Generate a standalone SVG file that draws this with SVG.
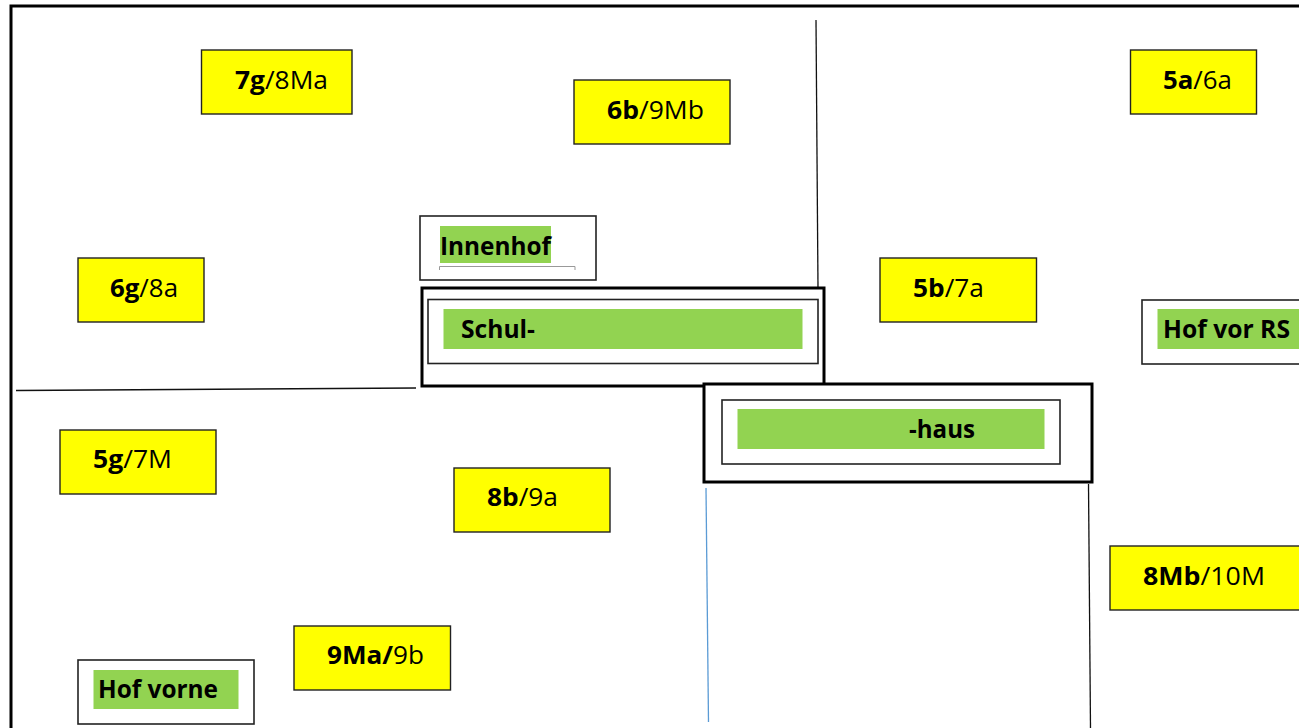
<svg xmlns="http://www.w3.org/2000/svg" width="1299" height="728" viewBox="0 0 1299 728">
<style>
text{font-family:"Open Sans","Lato",sans-serif;fill:#000}
.y{fill:#ff0;stroke:#222;stroke-width:1.4}
.w{fill:#fff;stroke:#222;stroke-width:1.6}
.b{fill:#fff;stroke:#000;stroke-width:3}
.g{fill:#92d351}
.t{font-size:25px}
.l{font-size:25px;font-weight:700}
.s{font-weight:700}
.c{fill:none;stroke:#111;stroke-width:1.3}
</style>
<rect id="frame" x="11" y="6" width="1300" height="740" fill="#fff" stroke="#000" stroke-width="3"/>
<g id="connectors">
<path class="c" d="M816 20L818 288"/>
<path class="c" d="M16 390.500L416 388"/>
<path class="c" d="M1088.500 484L1090.500 728"/>
<path class="c" d="M706 488L708.500 722" style="stroke:#5b9bd5"/>
</g>
<g id="n7g"><rect class="y" x="201.500" y="50" width="150.500" height="64"/><text class="t" x="235" y="89" textLength="93" lengthAdjust="spacingAndGlyphs"><tspan class="s">7g</tspan>/8Ma</text></g>
<g id="n6b"><rect class="y" x="574" y="80" width="156" height="64"/><text class="t" x="607" y="119" textLength="97" lengthAdjust="spacingAndGlyphs"><tspan class="s">6b</tspan>/9Mb</text></g>
<g id="n5a"><rect class="y" x="1130.500" y="50" width="126" height="64"/><text class="t" x="1163" y="89" textLength="69" lengthAdjust="spacingAndGlyphs"><tspan class="s">5a</tspan>/6a</text></g>
<g id="n6g"><rect class="y" x="78" y="258" width="126" height="64"/><text class="t" x="110" y="297" textLength="68" lengthAdjust="spacingAndGlyphs"><tspan class="s">6g</tspan>/8a</text></g>
<g id="n5b"><rect class="y" x="880" y="258" width="156.500" height="64"/><text class="t" x="913" y="297" textLength="71" lengthAdjust="spacingAndGlyphs"><tspan class="s">5b</tspan>/7a</text></g>
<g id="n5g"><rect class="y" x="60" y="430" width="156" height="64"/><text class="t" x="93" y="468" textLength="79" lengthAdjust="spacingAndGlyphs"><tspan class="s">5g</tspan>/7M</text></g>
<g id="n8b"><rect class="y" x="454" y="468" width="156" height="64"/><text class="t" x="487" y="506" textLength="71" lengthAdjust="spacingAndGlyphs"><tspan class="s">8b</tspan>/9a</text></g>
<g id="n8Mb"><rect class="y" x="1110" y="546" width="195" height="64"/><text class="t" x="1143" y="585" textLength="122" lengthAdjust="spacingAndGlyphs"><tspan class="s">8Mb</tspan>/10M</text></g>
<g id="n9Ma"><rect class="y" x="294" y="626" width="156.500" height="64"/><text class="t" x="327" y="664" textLength="97" lengthAdjust="spacingAndGlyphs"><tspan class="s">9Ma/</tspan>9b</text></g>
<g id="innenhof"><rect class="w" x="420" y="216" width="176" height="64"/><path d="M439.500 270V266.500H575V270" fill="none" stroke="#999" stroke-width="1"/><rect class="g" x="440" y="226" width="111" height="37"/><text class="l" x="440" y="255" textLength="111" lengthAdjust="spacingAndGlyphs">Innenhof</text></g>
<g id="schul"><rect class="b" x="422" y="288" width="402" height="98"/><rect class="w" x="428" y="299.500" width="390" height="64"/><rect class="g" x="443.500" y="309" width="359" height="40"/><text class="l" x="461" y="338" textLength="74" lengthAdjust="spacingAndGlyphs">Schul-</text></g>
<g id="haus"><rect class="b" x="704" y="384" width="388" height="98"/><rect class="w" x="722" y="400" width="338" height="64"/><rect class="g" x="737.500" y="409" width="307" height="40"/><text class="l" x="909" y="438" textLength="66" lengthAdjust="spacingAndGlyphs">-haus</text></g>
<g id="hofrs"><rect class="w" x="1142" y="300" width="170" height="64"/><rect class="g" x="1157.500" y="309" width="150" height="40"/><text class="l" x="1163" y="338" textLength="127" lengthAdjust="spacingAndGlyphs">Hof vor RS</text></g>
<g id="hofvorne"><rect class="w" x="78" y="660" width="176" height="64"/><rect class="g" x="93.500" y="670" width="145" height="39"/><text class="l" x="98" y="698" textLength="120" lengthAdjust="spacingAndGlyphs">Hof vorne</text></g>
</svg>
